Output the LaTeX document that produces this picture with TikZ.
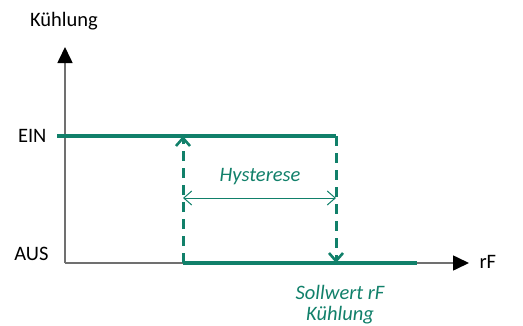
\documentclass[tikz,border=0pt]{standalone}
\usepackage{fontspec}
\setmainfont{Carlito}
\usetikzlibrary{arrows.meta,positioning}
\definecolor{Teal}{HTML}{11806A}
\definecolor{Axis}{HTML}{707070}

\begin{document}
\begin{tikzpicture}[x=1pt,y=-1pt,font=\fontsize{20.5}{21}\selectfont,
    axis/.style={draw=Axis,line width=1.6pt},
    state/.style={draw=Teal,line width=3.2pt},
    jump/.style={draw=Teal,line width=3pt,dash pattern=on 10pt off 7pt,-{Straight Barb[length=8pt,width=14pt,line width=2.6pt]}},
    lbl/.style={text=Teal,font=\fontsize{20.5}{21}\selectfont\itshape,align=center}]
        \useasboundingbox (0,0) rectangle (523,325);
        % axes
        \coordinate (o) at (65,263);
        \coordinate (ytop) at (65,47);
        \coordinate (xend) at (469,263);
        \draw[axis,-{Triangle[length=16pt,width=15pt,color=black]}] (o)--(ytop);
        \draw[axis,-{Triangle[length=16pt,width=15pt,color=black]}] (o)--(xend);
        \node (ylab) at (64,21) {Kühlung};
        \node[anchor=west] (xlab) at (476,262) {rF};
        \node[anchor=east] (ein) at (50,136) {EIN};
        \node[anchor=east] (aus) at (52,254) {AUS};
        % switching curve
        \coordinate (on0) at (57,136);
        \coordinate (on1) at (336,136);
        \coordinate (off0) at (183,263);
        \coordinate (off1) at (417,263);
        \coordinate (up) at (183,136);
        \coordinate (down) at (336,263);
        \draw[state] (on0)--(on1);
        \draw[state] (off0)--(off1);
        \draw[jump] (off0)--(up);
        \draw[jump] (on1)--(down);
        % hysteresis
        \coordinate (h0) at (183,198);
        \coordinate (h1) at (336,198);
        \draw[draw=Teal,line width=1pt,{Straight Barb[length=8pt,width=14pt]}-{Straight Barb[length=8pt,width=14pt]}] (h0)--(h1);
        \node[lbl] (hyst) at (260,177) {Hysterese};
        \node[lbl] (soll) at (340,305) {Sollwert rF\\Kühlung};
      \end{tikzpicture}
\end{document}
